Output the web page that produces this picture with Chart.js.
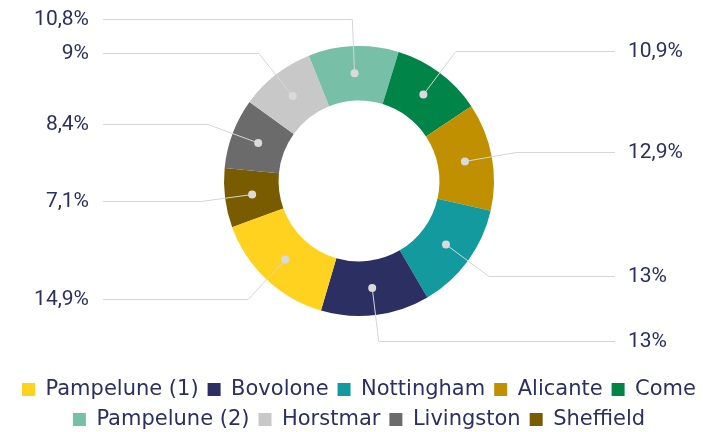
<!DOCTYPE html>
<html lang="fr">
<head>
<meta charset="utf-8">
<script src="https://cdn.jsdelivr.net/npm/chart.js@4.4.1/dist/chart.umd.min.js"></script>
<style>
  html, body { margin: 0; padding: 0; background: #fff; }
</style>
</head>
<body>
<canvas id="graphique" width="710" height="432"></canvas>
<script>
// données (ordre de la légende)
const categories = ['Pampelune (1)', 'Bovolone', 'Nottingham', 'Alicante', 'Come', 'Pampelune (2)', 'Horstmar', 'Livingston', 'Sheffield'];
const valeurs = [14.9, 13, 13, 12.9, 10.9, 10.8, 9, 8.4, 7.1];
const couleurs = ['#ffd220', '#2b2f62', '#139a9e', '#c09000', '#008448', '#78bfa8', '#c8c8c8', '#6b6b6b', '#7a5c00'];
// hauteur de chaque étiquette (px)
const etiquettesY = [299, 341, 276, 152, 51, 19, 53, 124, 201];

const COULEUR_TEXTE = '#2b2f62';

// le graphique tourne dans l'autre sens : on inverse pour le dessin
const ordreDessin = arr => arr.slice().reverse();

const pluginEtiquettes = {
    id: 'etiquettes',
    afterLayout(chart, args, opts) {
        // descend un peu la légende sans toucher au centre du donut
        chart.legend.top += opts.decalageLegende;
        chart.legend.bottom += opts.decalageLegende;
    },
    afterDatasetsDraw(chart, args, opts) {
        const ctx = chart.ctx;
        const meta = chart.getDatasetMeta(0);
        const n = meta.data.length;
        ctx.save();
        meta.data.forEach((arc, j) => {
            const i = n - 1 - j;
            const p = arc.tooltipPosition();
            const angle = (arc.startAngle + arc.endAngle) / 2;
            const dx = Math.cos(angle), dy = Math.sin(angle);
            const y = etiquettesY[i];
            let t = Math.abs(dy) > 0.01 ? (y - p.y) / dy : 0;
            if (t < 0) t = 0;
            const coudeX = p.x + t * dx;
            const gauche = p.x < arc.x;
            const finX = gauche ? opts.gaucheX : opts.droiteX;

            ctx.strokeStyle = opts.couleurTrait;
            ctx.lineWidth = 1;
            ctx.beginPath();
            ctx.moveTo(p.x, p.y);
            ctx.lineTo(coudeX, y + 0.5);
            ctx.lineTo(finX, y + 0.5);
            ctx.stroke();

            ctx.fillStyle = opts.couleurPoint;
            ctx.beginPath();
            ctx.arc(p.x, p.y, 4, 0, Math.PI * 2);
            ctx.fill();

            ctx.fillStyle = COULEUR_TEXTE;
            ctx.font = '21px Roboto';
            ctx.textBaseline = 'middle';
            ctx.textAlign = gauche ? 'right' : 'left';
            const texte = String(valeurs[i]).replace('.', ',') + '%';
            ctx.fillText(texte, gauche ? opts.texteGaucheX : opts.texteDroiteX, y + 1);
        });
        ctx.restore();
    }
};

new Chart(document.getElementById('graphique'), {
    type: 'doughnut',
    data: {
        labels: ordreDessin(categories),
        datasets: [{
            data: ordreDessin(valeurs),
            backgroundColor: ordreDessin(couleurs),
            borderWidth: 0
        }]
    },
    options: {
        responsive: false,
        animation: false,
        devicePixelRatio: 1,
        rotation: 250,
        radius: 135,
        cutout: '59.6%',
        layout: { padding: { top: 0, bottom: 0, left: 8, right: 0 } },
        plugins: {
            tooltip: { enabled: false },
            legend: {
                position: 'bottom',
                labels: {
                    boxWidth: 13,
                    boxHeight: 13,
                    padding: 9,
                    color: COULEUR_TEXTE,
                    font: { family: 'DejaVu Sans', size: 21 },
                    sort: (a, b) => b.index - a.index
                }
            },
            etiquettes: {
                decalageLegende: 8,
                couleurTrait: '#d6d6d6',
                couleurPoint: '#dadada',
                gaucheX: 103,
                droiteX: 615,
                texteGaucheX: 89,
                texteDroiteX: 628
            }
        }
    },
    plugins: [pluginEtiquettes]
});
</script>
</body>
</html>
